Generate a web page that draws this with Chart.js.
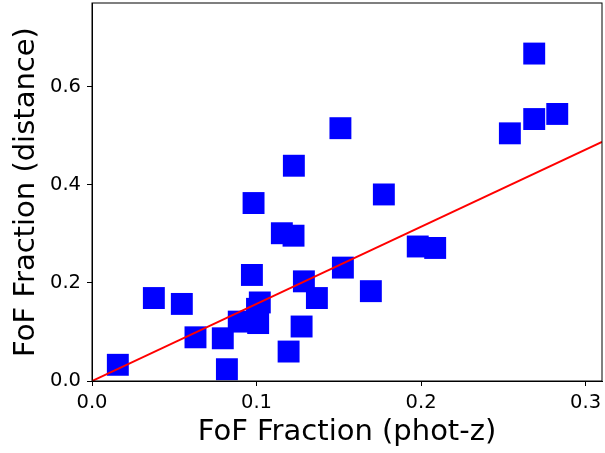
<!DOCTYPE html>
<html>
<head>
<meta charset="utf-8">
<script src="https://cdn.jsdelivr.net/npm/chart.js@4/dist/chart.umd.min.js"></script>
<style>
  body { margin: 0; background: #fff; }
</style>
</head>
<body>
<canvas id="myChart" width="605" height="453"></canvas>
<script>
// FoF fraction per sample: phot-z (x) vs distance (y)
const photZ = [0.0157, 0.0376, 0.0546, 0.0629, 0.0795, 0.082, 0.0892, 0.0972, 0.0982, 0.1003,
               0.101, 0.102, 0.1154, 0.1195, 0.1225, 0.1227, 0.1274, 0.1288, 0.1367, 0.151,
               0.1525, 0.1695, 0.1774, 0.198, 0.2086, 0.254, 0.2688, 0.2688, 0.2828]
const distance = [0.033, 0.169, 0.157, 0.089, 0.087, 0.024, 0.121, 0.216, 0.3625, 0.147,
                  0.118, 0.160, 0.301, 0.060, 0.296, 0.4385, 0.111, 0.203, 0.169, 0.515,
                  0.231, 0.183, 0.380, 0.274, 0.271, 0.5045, 0.667, 0.5336, 0.544]

// red fit line
const fitX = [0, 0.31]
const fitY = [0, 0.487]

const xTicks = [0, 0.1, 0.2, 0.3]
const yTicks = [0, 0.2, 0.4, 0.6]

const points = photZ.map((x, i) => ({x: x, y: distance[i]}))
const fitLine = fitX.map((x, i) => ({x: x, y: fitY[i]}))

const frame = {
    id: 'frame',
    afterDraw(chart) {
        const a = chart.chartArea
        const ctx = chart.ctx
        ctx.save()
        ctx.strokeStyle = '#000'
        ctx.lineWidth = 1
        ctx.strokeRect(a.left, a.top, a.right - a.left, a.bottom - a.top)
        ctx.restore()
    }
}

const ctx = document.getElementById('myChart')

new Chart(ctx, {
    type: 'scatter',
    data: {
        datasets: [{
            type: 'line',
            data: fitLine,
            borderColor: '#ff0000',
            borderWidth: 2,
            pointRadius: 0,
            fill: false
        }, {
            data: points,
            pointStyle: 'rect',
            pointRadius: 15.5,
            backgroundColor: '#0000ff',
            borderWidth: 0
        }]
    },
    options: {
        responsive: false,
        animation: false,
        layout: { autoPadding: false, padding: { top: 3, right: 3 } },
        plugins: {
            legend: { display: false },
            tooltip: { enabled: false }
        },
        scales: {
            x: {
                type: 'linear',
                min: 0,
                max: 0.31,
                afterBuildTicks: s => { s.ticks = xTicks.map(v => ({value: v})) },
                afterFit: s => {
                    s.height = 72
                    s.paddingLeft = 0; s.paddingRight = 0
                },
                grid: { drawOnChartArea: false, drawTicks: true, tickLength: 5, color: '#000' },
                border: { display: true, color: '#000', width: 1 },
                ticks: {
                    padding: 5,
                    color: '#000',
                    font: { family: 'DejaVu Sans', size: 19.5 },
                    callback: v => v.toFixed(1)
                },
                title: {
                    display: true,
                    text: 'FoF Fraction (phot-z)',
                    color: '#000',
                    font: { family: 'DejaVu Sans', size: 29 },
                    padding: { top: 0, bottom: 3 }
                }
            },
            y: {
                min: 0,
                max: 0.77,
                afterBuildTicks: s => { s.ticks = yTicks.map(v => ({value: v})) },
                afterFit: s => {
                    s.width = 92
                    s.paddingTop = 0; s.paddingBottom = 0
                },
                grid: { drawOnChartArea: false, drawTicks: true, tickLength: 5, color: '#000' },
                border: { display: true, color: '#000', width: 1 },
                ticks: {
                    padding: 6,
                    color: '#000',
                    font: { family: 'DejaVu Sans', size: 19.5 },
                    callback: v => v.toFixed(1)
                },
                title: {
                    display: true,
                    text: 'FoF Fraction (distance)',
                    color: '#000',
                    font: { family: 'DejaVu Sans', size: 29 },
                    padding: { top: 9, bottom: 0 }
                }
            }
        }
    },
    plugins: [frame]
})
</script>
</body>
</html>
